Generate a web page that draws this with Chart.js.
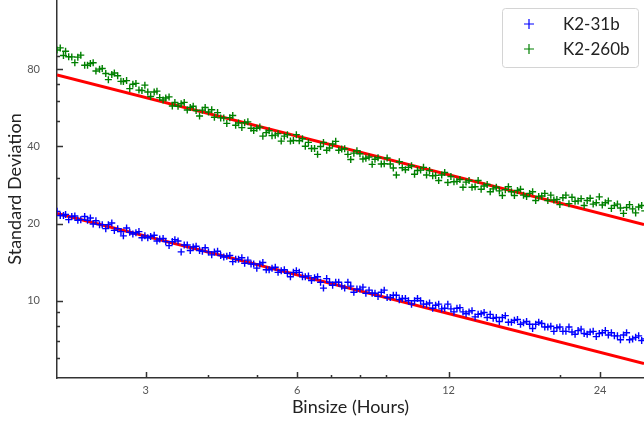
<!DOCTYPE html>
<html>
<head>
<meta charset="utf-8">
<script src="https://cdn.jsdelivr.net/npm/chart.js@4/dist/chart.umd.min.js"></script>
<style>
  html, body { margin: 0; padding: 0; background: #ffffff; overflow: hidden; }
  #wrap { width: 644px; height: 423px; }
</style>
</head>
<body>
<div id="wrap"><canvas id="c" width="644" height="423"></canvas></div>
<script>
// Bin sizes in hours (log-spaced)
const binsize = [
  2.00, 2.03, 2.06, 2.08, 2.11, 2.14, 2.17, 2.20, 2.23, 2.27,
  2.30, 2.33, 2.36, 2.39, 2.43, 2.46, 2.50, 2.53, 2.57, 2.60,
  2.64, 2.68, 2.71, 2.75, 2.79, 2.83, 2.87, 2.91, 2.95, 2.99,
  3.03, 3.07, 3.12, 3.16, 3.20, 3.25, 3.29, 3.34, 3.39, 3.43,
  3.48, 3.53, 3.58, 3.63, 3.68, 3.73, 3.78, 3.84, 3.89, 3.94,
  4.00, 4.06, 4.11, 4.17, 4.23, 4.29, 4.35, 4.41, 4.47, 4.53,
  4.59, 4.66, 4.72, 4.79, 4.86, 4.92, 4.99, 5.06, 5.13, 5.21,
  5.28, 5.35, 5.43, 5.50, 5.58, 5.66, 5.74, 5.82, 5.90, 5.98,
  6.06, 6.15, 6.23, 6.32, 6.41, 6.50, 6.59, 6.68, 6.77, 6.87,
  6.96, 7.06, 7.16, 7.26, 7.36, 7.46, 7.57, 7.67, 7.78, 7.89,
  8.00, 8.11, 8.22, 8.34, 8.46, 8.57, 8.69, 8.82, 8.94, 9.06,
  9.19, 9.32, 9.45, 9.58, 9.71, 9.85, 9.99, 10.13, 10.27, 10.41,
  10.56, 10.70, 10.85, 11.00, 11.16, 11.31, 11.47, 11.63, 11.79, 11.96,
  12.13, 12.30, 12.47, 12.64, 12.82, 13.00, 13.18, 13.36, 13.55, 13.74,
  13.93, 14.12, 14.32, 14.52, 14.72, 14.93, 15.14, 15.35, 15.56, 15.78,
  16.00, 16.22, 16.45, 16.68, 16.91, 17.15, 17.39, 17.63, 17.88, 18.13,
  18.38, 18.64, 18.90, 19.16, 19.43, 19.70, 19.97, 20.25, 20.53, 20.82,
  21.11, 21.41, 21.71, 22.01, 22.32, 22.63, 22.94, 23.26, 23.59, 23.92,
  24.25, 24.59, 24.93, 25.28, 25.63, 25.99, 26.35, 26.72, 27.10, 27.47,
  27.86, 28.25, 28.64, 29.04, 29.45
];

// Standard deviation of the binned light curve, K2-31b
const k2_31b = [
  22.3, 21.5, 21.5, 21.7, 20.7, 21.3, 21.4, 20.6, 20.7, 21.3,
  20.6, 21.0, 19.9, 20.5, 19.8, 19.8, 19.1, 19.8, 20.1, 18.8,
  19.1, 18.6, 17.9, 19.2, 18.5, 18.2, 18.4, 18.6, 17.6, 17.9,
  17.6, 17.8, 18.0, 17.1, 17.4, 17.5, 17.0, 16.4, 17.0, 17.3,
  17.1, 15.5, 16.5, 16.5, 15.7, 16.2, 16.3, 15.7, 15.6, 16.1,
  15.5, 15.1, 15.5, 15.6, 15.0, 14.8, 14.9, 15.0, 14.2, 14.5,
  14.5, 14.7, 14.0, 14.4, 13.9, 13.9, 13.4, 13.9, 14.1, 13.2,
  13.2, 13.4, 13.5, 12.9, 13.1, 13.2, 12.8, 12.4, 12.9, 13.1,
  12.9, 12.4, 12.4, 12.5, 12.0, 12.3, 12.4, 11.8, 11.2, 12.2,
  11.8, 11.5, 11.8, 11.8, 11.4, 11.2, 11.8, 11.4, 10.8, 11.1,
  11.1, 11.3, 10.7, 11.0, 10.7, 10.7, 10.4, 10.8, 11.0, 10.3,
  10.3, 10.5, 10.5, 10.1, 10.2, 10.2, 10.0, 9.7, 10.0, 10.2,
  10.0, 9.7, 9.7, 9.8, 9.35, 9.6, 9.7, 9.3, 9.35, 9.7,
  9.3, 9.05, 9.35, 9.4, 9.05, 8.9, 9.05, 9.15, 8.65, 8.85,
  8.9, 9.0, 8.6, 8.85, 8.55, 8.6, 8.3, 8.6, 8.75, 8.25,
  8.25, 8.4, 8.45, 8.1, 8.2, 8.3, 8.1, 7.8, 8.1, 8.25,
  8.15, 7.9, 7.9, 7.95, 7.6, 7.85, 7.9, 7.6, 7.6, 7.9,
  7.55, 7.4, 7.65, 7.75, 7.45, 7.4, 7.55, 7.6, 7.25, 7.45,
  7.5, 7.65, 7.35, 7.5, 7.3, 7.3, 7.05, 7.35, 7.5, 7.05,
  7.1, 7.2, 7.3, 7.0, 7.1
];

// Standard deviation of the binned light curve, K2-260b
const k2_260b = [
  94.9, 96.7, 90.3, 93.8, 89.3, 89.2, 84.7, 89.0, 90.6, 82.8,
  82.7, 84.1, 84.6, 78.6, 79.9, 80.4, 76.8, 72.7, 76.2, 77.2,
  75.3, 71.6, 71.5, 72.1, 67.1, 69.8, 70.3, 66.2, 66.0, 69.2,
  65.1, 62.5, 65.1, 65.6, 61.9, 60.6, 61.7, 62.3, 57.4, 59.2,
  57.3, 58.6, 59.3, 55.4, 56.7, 57.3, 55.1, 52.5, 55.3, 56.6,
  54.4, 55.5, 51.9, 54.1, 51.6, 51.6, 49.1, 51.7, 52.7, 48.3,
  49.3, 47.3, 49.4, 49.8, 47.0, 46.1, 47.0, 47.5, 43.8, 45.2,
  46.0, 44.0, 44.2, 44.8, 41.9, 43.8, 44.4, 41.9, 42.1, 44.4,
  42.0, 42.8, 40.0, 41.4, 39.2, 39.2, 37.2, 39.9, 41.4, 38.6,
  39.4, 40.8, 41.8, 38.6, 39.0, 39.1, 37.2, 35.5, 37.6, 38.4,
  37.4, 35.7, 35.9, 36.3, 34.0, 35.6, 36.1, 34.1, 34.2, 36.0,
  34.1, 32.9, 30.9, 34.8, 33.0, 32.4, 33.1, 33.6, 31.1, 32.2,
  32.3, 33.1, 30.9, 32.2, 30.7, 30.8, 29.4, 30.9, 31.6, 28.9,
  30.5, 29.1, 29.2, 29.7, 27.7, 29.0, 29.4, 27.7, 27.8, 29.4,
  27.2, 28.0, 28.4, 26.6, 27.3, 27.7, 26.8, 25.7, 27.1, 27.8,
  26.6, 25.7, 26.9, 27.2, 25.8, 25.5, 26.2, 26.6, 24.6, 25.5,
  25.6, 26.2, 24.6, 25.8, 24.7, 24.8, 23.7, 25.2, 25.8, 23.9,
  25.3, 24.4, 24.5, 25.0, 23.5, 24.6, 25.1, 23.8, 24.1, 25.4,
  23.6, 24.1, 24.5, 22.9, 23.5, 23.8, 23.0, 21.9, 23.1, 23.7,
  22.8, 22.0, 23.2, 23.5, 22.4
];

// White-noise reference lines (endpoints at the axis limits)
const fitX = [2.0, 29.35];
const fit31b = [21.9, 5.69];
const fit260b = [75.8, 19.8];

// Axis limits and ticks
const xRange = [2.0, 29.35];
const yRange = [5.0, 148.6];
const xMajor = [3, 6, 12, 24];
const xMinor = [4, 5, 7, 8, 9, 20];
const yMajor = [10, 20, 40, 80];
const yMinor = [6, 7, 8, 9, 30, 50, 60, 70, 90];

const seriesNames = ['K2-31b', 'K2-260b'];
const seriesColors = ['#0000ff', '#008000'];

const FONT = 'Lato, "DejaVu Sans", sans-serif';
const AXIS_COLOR = '#333333';

const toPoints = (xs, ys) => xs.map((x, i) => ({ x: x, y: ys[i] }));

// Tick marks drawn inward from the axis lines
const innerTicks = {
  id: 'innerTicks',
  afterDraw(chart) {
    const { ctx, chartArea } = chart;
    const xs = chart.scales.x, ys = chart.scales.y;
    ctx.save();
    ctx.strokeStyle = AXIS_COLOR;
    ctx.lineWidth = 1.5;
    ctx.beginPath();
    const b = chartArea.bottom, l = chartArea.left;
    xMajor.forEach(v => { const p = Math.round(xs.getPixelForValue(v)) + 0.5; ctx.moveTo(p, b); ctx.lineTo(p, b - 6); });
    xMinor.forEach(v => { const p = Math.round(xs.getPixelForValue(v)) + 0.5; ctx.moveTo(p, b); ctx.lineTo(p, b - 3); });
    yMajor.forEach(v => { const p = Math.round(ys.getPixelForValue(v)) + 0.5; ctx.moveTo(l, p); ctx.lineTo(l + 6, p); });
    yMinor.forEach(v => { const p = Math.round(ys.getPixelForValue(v)) + 0.5; ctx.moveTo(l, p); ctx.lineTo(l + 3, p); });
    ctx.stroke();
    ctx.restore();
  }
};

// Framed legend in the upper right corner
const boxLegend = {
  id: 'boxLegend',
  afterDraw(chart) {
    const ctx = chart.ctx;
    const bx = 502.5, by = 8.5, bw = 136, bh = 59, r = 3;
    ctx.save();
    ctx.beginPath();
    ctx.moveTo(bx + r, by);
    ctx.lineTo(bx + bw - r, by);
    ctx.arcTo(bx + bw, by, bx + bw, by + r, r);
    ctx.lineTo(bx + bw, by + bh - r);
    ctx.arcTo(bx + bw, by + bh, bx + bw - r, by + bh, r);
    ctx.lineTo(bx + r, by + bh);
    ctx.arcTo(bx, by + bh, bx, by + bh - r, r);
    ctx.lineTo(bx, by + r);
    ctx.arcTo(bx, by, bx + r, by, r);
    ctx.closePath();
    ctx.fillStyle = '#ffffff';
    ctx.fill();
    ctx.strokeStyle = '#d4d4d4';
    ctx.lineWidth = 1;
    ctx.stroke();

    const rows = [24, 49];
    seriesNames.forEach((name, i) => {
      const cy = rows[i];
      ctx.strokeStyle = seriesColors[i];
      ctx.lineWidth = 1.2;
      ctx.beginPath();
      ctx.moveTo(524, cy); ctx.lineTo(534, cy);
      ctx.moveTo(529, cy - 5); ctx.lineTo(529, cy + 5);
      ctx.stroke();
      ctx.fillStyle = '#222222';
      ctx.font = '17px ' + FONT;
      ctx.textAlign = 'left';
      ctx.textBaseline = 'middle';
      ctx.fillText(name, 563, cy + 1);
    });
    ctx.restore();
  }
};

new Chart(document.getElementById('c'), {
  type: 'scatter',
  data: {
    datasets: [
      {
        label: seriesNames[0],
        data: toPoints(binsize, k2_31b),
        pointStyle: 'cross',
        radius: 3.5,
        borderWidth: 1.4,
        borderColor: seriesColors[0],
        backgroundColor: seriesColors[0],
        order: 1
      },
      {
        label: seriesNames[1],
        data: toPoints(binsize, k2_260b),
        pointStyle: 'cross',
        radius: 3.5,
        borderWidth: 1.4,
        borderColor: seriesColors[1],
        backgroundColor: seriesColors[1],
        order: 1
      },
      {
        label: 'fit K2-31b',
        data: toPoints(fitX, fit31b),
        showLine: true,
        borderColor: '#ff0000',
        borderWidth: 3,
        pointRadius: 0,
        order: 2
      },
      {
        label: 'fit K2-260b',
        data: toPoints(fitX, fit260b),
        showLine: true,
        borderColor: '#ff0000',
        borderWidth: 3,
        pointRadius: 0,
        order: 2
      }
    ]
  },
  options: {
    responsive: false,
    animation: false,
    devicePixelRatio: 1,
    layout: { padding: 0, autoPadding: false },
    plugins: {
      legend: { display: false },
      tooltip: { enabled: false }
    },
    scales: {
      x: {
        type: 'logarithmic',
        min: xRange[0],
        max: xRange[1],
        afterFit(scale) { scale.height = 45; scale.paddingLeft = 0; scale.paddingRight = 0; },
        afterBuildTicks(scale) { scale.ticks = xMajor.map(v => ({ value: v })); },
        grid: { display: false, drawTicks: false },
        border: { display: true, color: AXIS_COLOR, width: 1.5 },
        ticks: {
          autoSkip: false,
          maxRotation: 0,
          padding: 6,
          color: '#555555',
          font: { family: FONT, size: 11 },
          callback: v => String(v)
        },
        title: {
          display: true,
          text: 'Binsize (Hours)',
          color: '#222222',
          font: { family: FONT, size: 18 },
          padding: { top: 0, bottom: 5 }
        }
      },
      y: {
        type: 'logarithmic',
        min: yRange[0],
        max: yRange[1],
        afterFit(scale) { scale.width = 57; scale.paddingTop = 0; scale.paddingBottom = 0; },
        afterBuildTicks(scale) { scale.ticks = yMajor.map(v => ({ value: v })); },
        grid: { display: false, drawTicks: false },
        border: { display: true, color: AXIS_COLOR, width: 1.5 },
        ticks: {
          autoSkip: false,
          padding: 17,
          color: '#555555',
          font: { family: FONT, size: 11 },
          callback: v => String(v)
        },
        title: {
          display: true,
          text: 'Standard Deviation',
          color: '#222222',
          font: { family: FONT, size: 18 },
          padding: { top: 4, bottom: 0 }
        }
      }
    }
  },
  plugins: [innerTicks, boxLegend]
});
</script>
</body>
</html>
